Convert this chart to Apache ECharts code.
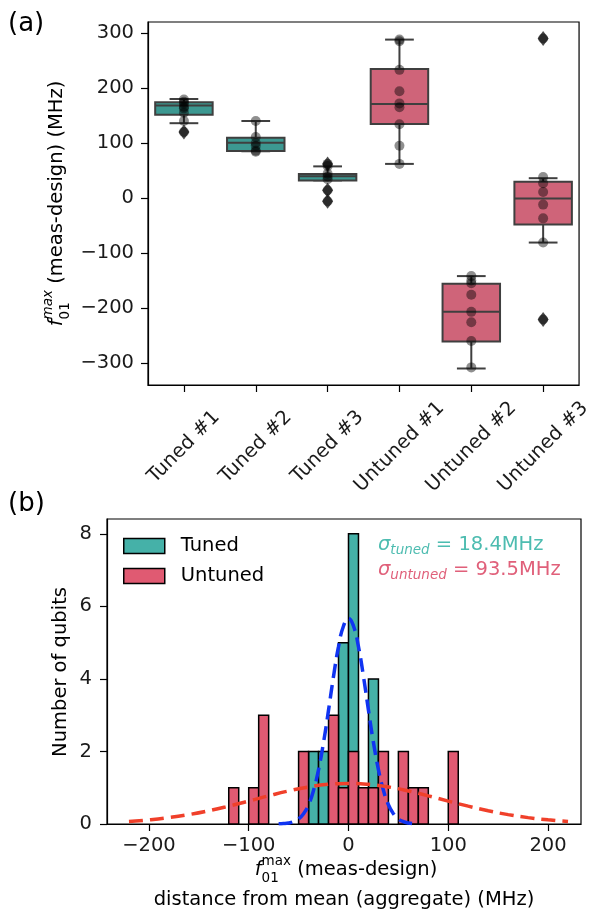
<!DOCTYPE html>
<html>
<head>
<meta charset="utf-8">
<script src="https://cdn.jsdelivr.net/npm/echarts@6/dist/echarts.min.js"></script>
<style>
html,body{margin:0;padding:0;background:#fff;}
#chart{width:594px;height:914px;}
</style>
</head>
<body>
<div id="chart"></div>
<script>
// ---------------- data ----------------
const categories = ['Tuned #1', 'Tuned #2', 'Tuned #3', 'Untuned #1', 'Untuned #2', 'Untuned #3'];
// [whisker low, Q1, median, Q3, whisker high]  (MHz)
const boxStats = [
  [136, 151.5, 168, 174, 180],
  [85, 85.5, 100.5, 109.5, 140],
  [32, 32, 39.5, 43.5, 57.5],
  [62, 134.5, 171, 234.5, 288],
  [-310, -261, -207, -156, -142],
  [-81, -48, -1, 29.5, 36]
];
const tuned1Points = [179, 175, 172, 166, 163, 155, 140, 120];
const tuned2Points = [140, 111, 100, 95, 86, 84];
const tuned3Points = [62, 58, 44, 39, 34, 14, -6];
const untuned1Points = [288, 285, 233, 194, 172, 165, 134, 95, 62];
const untuned2Points = [-142, -150, -155, -176, -207, -226, -260, -308];
const untuned3Points = [290, 38, 27, 11, -12, -37, -81, -221];
const fliers = [[120], [], [62, 14, -6], [], [], [290, -221]];
const boxYTicks = [-300, -200, -100, 0, 100, 200, 300];

const binStarts = [-120, -110, -100, -90, -80, -70, -60, -50, -40, -30, -20, -10, 0, 10, 20, 30, 40, 50, 60, 70, 80, 90, 100];
const tunedCounts = [0, 0, 0, 0, 0, 0, 0, 0, 2, 2, 0, 5, 8, 0, 4, 0, 0, 0, 0, 0, 0, 0, 0];
const untunedCounts = [1, 0, 1, 3, 0, 0, 0, 2, 0, 0, 3, 1, 2, 1, 1, 2, 0, 2, 1, 1, 0, 0, 2];
const binWidth = 10;

const tunedFitX = [-70, -65, -60, -55, -50, -45, -40, -35, -30, -25, -20, -15, -10, -5, 0, 5, 10, 15, 20, 25, 30, 35, 40, 45, 50, 55, 60, 65, 70];
const tunedFitY = [0.004, 0.011, 0.028, 0.065, 0.14, 0.285, 0.53, 0.93, 1.5, 2.25, 3.14, 4.07, 4.89, 5.46, 5.67, 5.46, 4.89, 4.07, 3.14, 2.25, 1.5, 0.93, 0.53, 0.285, 0.14, 0.065, 0.028, 0.011, 0.004];
const untunedFitX = [-220, -200, -180, -160, -140, -120, -100, -80, -60, -40, -20, 0, 20, 40, 60, 80, 100, 120, 140, 160, 180, 200, 220];
const untunedFitY = [0.07, 0.114, 0.176, 0.259, 0.365, 0.492, 0.632, 0.777, 0.912, 1.022, 1.094, 1.12, 1.094, 1.022, 0.912, 0.777, 0.632, 0.492, 0.365, 0.259, 0.176, 0.114, 0.07];
const histXTicks = [-200, -100, 0, 100, 200];
const histYTicks = [0, 2, 4, 6, 8];
const sigmaTuned = '18.4MHz';
const sigmaUntuned = '93.5MHz';

// ---------------- styles ----------------
const FONT = 'DejaVu Sans';
const FS = 19.5;
const TEAL_BOX = '#3c9891';
const RED_BOX = '#cf6479';
const TEAL_HIST = '#45b1a8';
const RED_HIST = '#e05a72';
const boxColors = [TEAL_BOX, TEAL_BOX, TEAL_BOX, RED_BOX, RED_BOX, RED_BOX];
const allPoints = [tuned1Points, tuned2Points, tuned3Points, untuned1Points, untuned2Points, untuned3Points];

const minus = v => String(v).replace('-', '\u2212');

// text composition helper (for sub/superscripts)
const mctx = document.createElement('canvas').getContext('2d');
function fontStr(p) { return (p.italic ? 'italic ' : '') + p.size + 'px "' + FONT + '"'; }
function tw(p) { mctx.font = fontStr(p); return mctx.measureText(p.t).width; }
function mk(p, x, color) {
  return {
    type: 'text', x: x, y: p.dy || 0,
    style: { text: p.t, font: fontStr(p), fill: p.color || color,
             align: 'left', verticalAlign: 'middle', textAlign: 'left', textVerticalAlign: 'middle' }
  };
}
function compose(x, y, parts, opt) {
  opt = opt || {};
  const color = opt.color || '#000';
  let cursor = 0;
  const children = [];
  parts.forEach(p => {
    if (p.stack) {
      let w = 0;
      p.stack.forEach(s => { children.push(mk(s, cursor, color)); w = Math.max(w, tw(s)); });
      cursor += w;
    } else {
      children.push(mk(p, cursor, color));
      cursor += tw(p);
    }
  });
  const shift = opt.align === 'center' ? -cursor / 2 : 0;
  children.forEach(c => { c.x += shift; });
  return { type: 'group', x: x, y: y, rotation: opt.rotation || 0, children: children };
}

// ---------------- build series data ----------------
const boxData = boxStats.map((s, i) => [i].concat(s));
const pointData = [];
allPoints.forEach((arr, i) => arr.forEach(v => pointData.push([i, v])));
const flierData = [];
fliers.forEach((arr, i) => arr.forEach(v => flierData.push([i, v])));
const tunedHist = binStarts.map((b, i) => [b, tunedCounts[i]]);
const untunedHist = binStarts.map((b, i) => [b, untunedCounts[i]]);
const tunedFit = tunedFitX.map((x, i) => [x, tunedFitY[i]]);
const untunedFit = untunedFitX.map((x, i) => [x, untunedFitY[i]]);

function renderBox(params, api) {
  const i = api.value(0);
  const lo = api.value(1), q1 = api.value(2), med = api.value(3), q3 = api.value(4), hi = api.value(5);
  const bw = api.size([1, 0])[0] * 0.8;
  const cx = api.coord([i, 0])[0];
  const y = v => api.coord([i, v])[1];
  const line = { stroke: '#3f3f3f', lineWidth: 2 };
  const cap = bw / 4;
  return {
    type: 'group',
    children: [
      { type: 'line', shape: { x1: cx, y1: y(q3), x2: cx, y2: y(hi) }, style: line },
      { type: 'line', shape: { x1: cx, y1: y(q1), x2: cx, y2: y(lo) }, style: line },
      { type: 'line', shape: { x1: cx - cap, y1: y(hi), x2: cx + cap, y2: y(hi) }, style: line },
      { type: 'line', shape: { x1: cx - cap, y1: y(lo), x2: cx + cap, y2: y(lo) }, style: line },
      { type: 'rect', shape: { x: cx - bw / 2, y: y(q3), width: bw, height: y(q1) - y(q3) },
        style: { fill: boxColors[i], stroke: '#3f3f3f', lineWidth: 2 } },
      { type: 'line', shape: { x1: cx - bw / 2, y1: y(med), x2: cx + bw / 2, y2: y(med) }, style: line }
    ]
  };
}
function histRenderer(color) {
  return function (params, api) {
    const x0 = api.value(0), c = api.value(1);
    if (!c) return null;
    const p0 = api.coord([x0, c]);
    const p1 = api.coord([x0 + binWidth, 0]);
    return { type: 'rect', shape: { x: p0[0], y: p0[1], width: p1[0] - p0[0], height: p1[1] - p0[1] },
             style: { fill: color, stroke: '#000', lineWidth: 1.5 } };
  };
}

const axisLine = { show: true, onZero: false, lineStyle: { color: '#000', width: 1.2 } };
const axisTick = len => ({ show: true, length: len, lineStyle: { color: '#000', width: 1.2 } });
const lbl = { color: '#1a1a1a', fontFamily: FONT, fontSize: FS };

const chart = echarts.init(document.getElementById('chart'), null, { renderer: 'canvas' });
chart.setOption({
  animation: false,
  backgroundColor: '#fff',
  grid: [
    { left: 148, top: 22, right: 13, bottom: 529, show: true, borderColor: '#000', borderWidth: 1.2, backgroundColor: 'transparent' },
    { left: 107, top: 519, right: 13, bottom: 90, show: true, borderColor: '#000', borderWidth: 1.2, backgroundColor: 'transparent' }
  ],
  xAxis: [
    { type: 'category', gridIndex: 0, data: categories, boundaryGap: true,
      axisLine: axisLine, axisTick: Object.assign(axisTick(7), { alignWithLabel: true }),
      axisLabel: Object.assign({}, lbl, { rotate: 45, align: 'center', verticalAlign: 'middle', margin: 62, interval: 0 }),
      splitLine: { show: false } },
    { type: 'value', gridIndex: 1, min: -242, max: 233,
      axisLine: axisLine, axisTick: Object.assign(axisTick(7), { customValues: histXTicks }),
      axisLabel: Object.assign({}, lbl, { customValues: histXTicks, margin: 12, formatter: minus }),
      splitLine: { show: false } }
  ],
  yAxis: [
    { type: 'value', gridIndex: 0, min: -340, max: 320,
      axisLine: axisLine, axisTick: Object.assign(axisTick(7), { customValues: boxYTicks }),
      axisLabel: Object.assign({}, lbl, { customValues: boxYTicks, margin: 14, formatter: minus }),
      splitLine: { show: false } },
    { type: 'value', gridIndex: 1, min: 0, max: 8.41,
      axisLine: axisLine, axisTick: Object.assign(axisTick(7), { customValues: histYTicks }),
      axisLabel: Object.assign({}, lbl, { customValues: histYTicks, margin: 15 }),
      splitLine: { show: false } }
  ],
  legend: {
    orient: 'vertical', left: 123, top: 536, itemWidth: 41, itemHeight: 15, itemGap: 10, padding: 0,
    textStyle: { fontFamily: FONT, fontSize: FS, color: '#000', lineHeight: 20, padding: [0, 0, 0, 11] },
    data: [
      { name: 'Tuned', icon: 'rect', itemStyle: { color: TEAL_HIST, borderColor: '#000', borderWidth: 1.5 } },
      { name: 'Untuned', icon: 'rect', itemStyle: { color: RED_HIST, borderColor: '#000', borderWidth: 1.5 } }
    ]
  },
  series: [
    { type: 'custom', name: 'boxes', xAxisIndex: 0, yAxisIndex: 0, data: boxData,
      encode: { x: 0, y: [1, 2, 3, 4, 5] }, renderItem: renderBox, z: 2 },
    { type: 'scatter', name: 'fliers', xAxisIndex: 0, yAxisIndex: 0, data: flierData,
      symbol: 'diamond', symbolSize: [11, 15], itemStyle: { color: '#222' }, z: 3 },
    { type: 'scatter', name: 'points', xAxisIndex: 0, yAxisIndex: 0, data: pointData,
      symbol: 'circle', symbolSize: 10, itemStyle: { color: 'rgba(0,0,0,0.55)' }, z: 4 },
    { type: 'custom', name: 'Tuned', xAxisIndex: 1, yAxisIndex: 1, data: tunedHist,
      encode: { x: 0, y: 1 }, renderItem: histRenderer(TEAL_HIST),
      itemStyle: { color: TEAL_HIST, borderColor: '#000', borderWidth: 1.5 }, z: 2 },
    { type: 'custom', name: 'Untuned', xAxisIndex: 1, yAxisIndex: 1, data: untunedHist,
      encode: { x: 0, y: 1 }, renderItem: histRenderer(RED_HIST),
      itemStyle: { color: RED_HIST, borderColor: '#000', borderWidth: 1.5 }, z: 3 },
    { type: 'line', name: 'tunedFit', xAxisIndex: 1, yAxisIndex: 1, data: tunedFit, smooth: true,
      showSymbol: false, lineStyle: { color: '#1034f2', width: 3.5, type: [14, 7] }, z: 5 },
    { type: 'line', name: 'untunedFit', xAxisIndex: 1, yAxisIndex: 1, data: untunedFit, smooth: true,
      showSymbol: false, lineStyle: { color: '#f0402a', width: 3.5, type: [14, 7] }, z: 5 }
  ],
  graphic: [
    { type: 'text', left: 8, top: 11, style: { text: '(a)', font: '26px "' + FONT + '"', fill: '#000' } },
    { type: 'text', left: 8, top: 491, style: { text: '(b)', font: '26px "' + FONT + '"', fill: '#000' } },
    compose(57, 203.5, [
      { t: 'f', size: FS, italic: true },
      { stack: [ { t: 'max', size: 13.5, italic: true, dy: -9 }, { t: '01', size: 13.5, dy: 8 } ] },
      { t: ' (meas-design) (MHz)', size: FS }
    ], { align: 'center', rotation: Math.PI / 2 }),
    compose(61, 672, [ { t: 'Number of qubits', size: FS } ], { align: 'center', rotation: Math.PI / 2 }),
    compose(346, 870, [
      { t: 'f', size: FS, italic: true },
      { stack: [ { t: 'max', size: 13.5, dy: -9 }, { t: '01', size: 13.5, dy: 8 } ] },
      { t: ' (meas-design)', size: FS }
    ], { align: 'center' }),
    compose(344, 900, [ { t: 'distance from mean (aggregate) (MHz)', size: FS } ], { align: 'center' }),
    compose(378, 545, [
      { t: '\u03c3', size: FS, italic: true },
      { t: 'tuned', size: 13.5, italic: true, dy: 5.5 },
      { t: ' = ' + sigmaTuned, size: FS }
    ], { color: '#4dbcb0' }),
    compose(378, 570, [
      { t: '\u03c3', size: FS, italic: true },
      { t: 'untuned', size: 13.5, italic: true, dy: 5.5 },
      { t: ' = ' + sigmaUntuned, size: FS }
    ], { color: '#e0607a' })
  ]
});
</script>
</body>
</html>
